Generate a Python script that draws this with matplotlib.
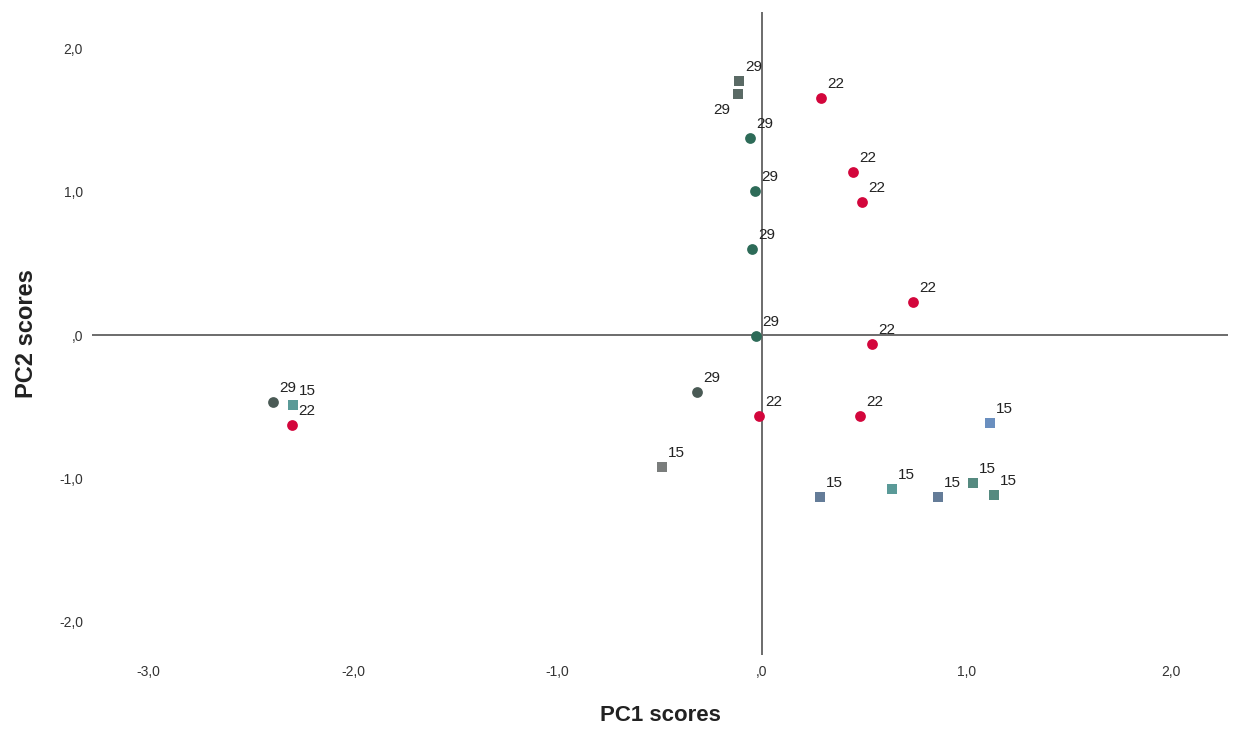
import matplotlib
matplotlib.use("Agg")
import matplotlib.pyplot as plt

plt.rcParams['font.family'] = ['Liberation Sans', 'DejaVu Sans']

# ---- data ----
pc1 = [-0.112, -0.117, -0.059, -0.034, -0.049, -0.029, -0.318, -2.391,
       -2.293, -0.489, 1.115, 0.284, 0.636, 0.861, 1.032, 1.134,
       0.289, 0.445, 0.489, 0.738, 0.538, -0.015, 0.479, -2.298]
pc2 = [1.770, 1.679, 1.373, 1.004, 0.599, -0.007, -0.397, -0.467,
       -0.488, -0.920, -0.613, -1.129, -1.073, -1.129, -1.031, -1.113,
       1.652, 1.136, 0.927, 0.230, -0.063, -0.564, -0.564, -0.627]
point_labels = ["29", "29", "29", "29", "29", "29", "29", "29",
                "15", "15", "15", "15", "15", "15", "15", "15",
                "22", "22", "22", "22", "22", "22", "22", "22"]
subgroup = ["g29sq", "g29sq", "g29ci", "g29ci", "g29ci", "g29ci", "g29dk", "g29dk",
            "g15teal", "g15grey", "g15blue", "g15slate", "g15teal", "g15slate", "g15green", "g15green",
            "g22", "g22", "g22", "g22", "g22", "g22", "g22", "g22"]
x_ticks = [-3.0, -2.0, -1.0, 0.0, 1.0, 2.0]
x_ticklabels = ["-3,0", "-2,0", "-1,0", ",0", "1,0", "2,0"]
y_ticks = [-2.0, -1.0, 0.0, 1.0, 2.0]
y_ticklabels = ["-2,0", "-1,0", ",0", "1,0", "2,0"]

# ---- styles ----
styles = {
    "g29sq":    dict(marker="s", color="#5a6a65"),
    "g29ci":    dict(marker="o", color="#2d6b58"),
    "g29dk":    dict(marker="o", color="#4a5a55"),
    "g15teal":  dict(marker="s", color="#5a9a98"),
    "g15grey":  dict(marker="s", color="#7a7d7c"),
    "g15blue":  dict(marker="s", color="#6a8fbf"),
    "g15slate": dict(marker="s", color="#647c98"),
    "g15green": dict(marker="s", color="#558a80"),
    "g22":      dict(marker="o", color="#d3063c"),
}

W, H = 1247, 735
fig = plt.figure(figsize=(W / 100, H / 100), dpi=100)
ax = fig.add_axes([92 / W, 1 - 655 / H, (1228 - 92) / W, (655 - 12) / H])

ax.set_xlim(-3.276, 2.279)
ax.set_ylim(-2.230, 2.251)

ax.axhline(0, color="#6b6b6b", lw=1.4, zorder=1)
ax.axvline(0, color="#6b6b6b", lw=1.4, zorder=1)

for x, y, lab, sg in zip(pc1, pc2, point_labels, subgroup):
    st = styles[sg]
    ax.scatter([x], [y], marker=st["marker"], c=st["color"],
               s=60 if st["marker"] == "o" else 50, zorder=3, linewidths=0)

for i, (x, y, lab) in enumerate(zip(pc1, pc2, point_labels)):
    if i == 1:
        ax.annotate(lab, (x, y), xytext=(-8, -16), textcoords="offset pixels",
                    ha="right", va="center", fontsize=11, color="#222222")
    else:
        ax.annotate(lab, (x, y), xytext=(6, 14), textcoords="offset pixels",
                    ha="left", va="center", fontsize=11, color="#222222")

for s in ax.spines.values():
    s.set_visible(False)

ax.set_xticks(x_ticks)
ax.set_xticklabels(x_ticklabels)
ax.set_yticks(y_ticks)
ax.set_yticklabels(y_ticklabels)
ax.tick_params(axis="both", length=0, labelsize=10, labelcolor="#333333")
ax.tick_params(axis="x", pad=7)
ax.tick_params(axis="y", pad=6.5)

ax.set_xlabel("PC1 scores", fontsize=16, fontweight="bold", color="#222222", labelpad=19)
ax.set_ylabel("PC2 scores", fontsize=17, fontweight="bold", color="#222222", labelpad=15)

fig.savefig("out.png", dpi=100)
